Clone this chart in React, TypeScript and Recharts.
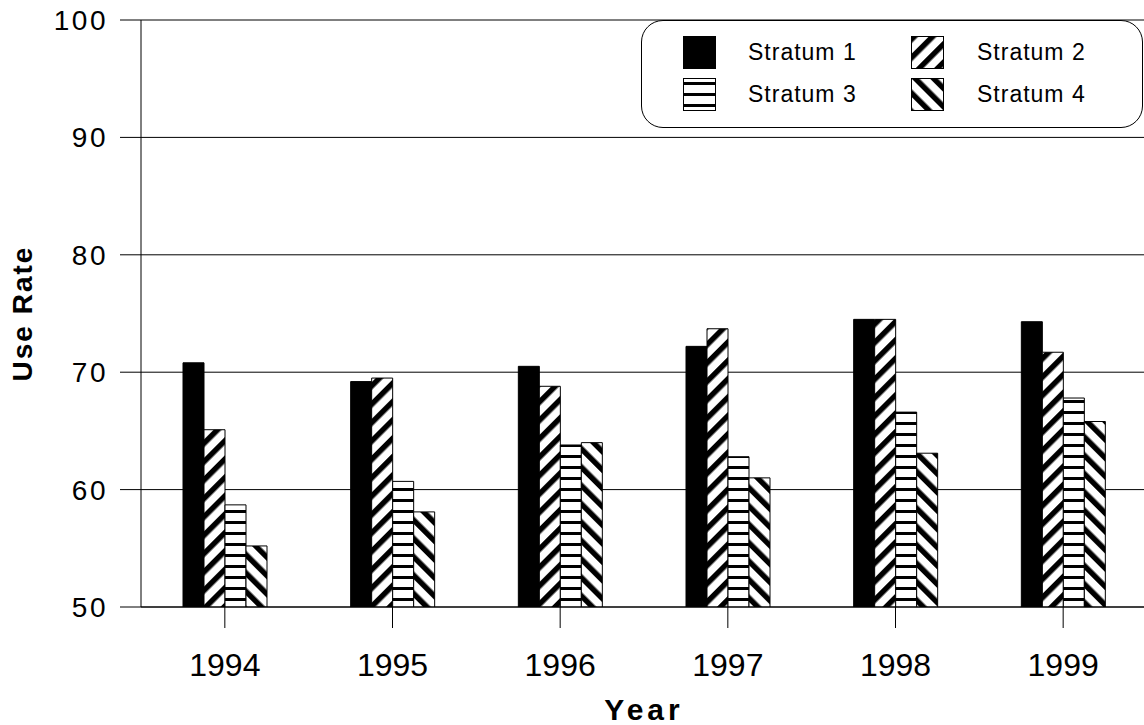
import React from 'react';
import { BarChart, Bar, XAxis, YAxis, CartesianGrid, Legend } from 'recharts';

const years = ['1994', '1995', '1996', '1997', '1998', '1999'];
const seriesNames = ['Stratum 1', 'Stratum 2', 'Stratum 3', 'Stratum 4'];
const stratum1 = [70.8, 69.2, 70.5, 72.2, 74.5, 74.3];
const stratum2 = [65.1, 69.5, 68.8, 73.7, 74.5, 71.7];
const stratum3 = [58.7, 60.7, 63.8, 62.8, 66.6, 67.8];
const stratum4 = [55.2, 58.1, 64.0, 61.0, 63.1, 65.8];
const yTicks = [50, 60, 70, 80, 90, 100];

const data = years.map((year, i) => ({
  year,
  s1: stratum1[i],
  s2: stratum2[i],
  s3: stratum3[i],
  s4: stratum4[i],
}));

const font = '"Liberation Sans", Arial, sans-serif';

// hatch patterns, prefix keeps ids unique between chart and legend swatches
function Patterns({ prefix }: { prefix: string }) {
  return (
    <defs>
      <pattern id={`${prefix}2`} patternUnits="userSpaceOnUse" width="13" height="13" patternTransform="rotate(45)">
        <rect width="13" height="13" fill="#fff" />
        <rect width="5.5" height="13" fill="#000" />
      </pattern>
      <pattern id={`${prefix}3`} patternUnits="userSpaceOnUse" width="10" height="11">
        <rect width="10" height="11" fill="#fff" />
        <rect y="4" width="10" height="3" fill="#000" />
      </pattern>
      <pattern id={`${prefix}4`} patternUnits="userSpaceOnUse" width="13" height="13" patternTransform="rotate(-45)">
        <rect width="13" height="13" fill="#fff" />
        <rect width="5.5" height="13" fill="#000" />
      </pattern>
    </defs>
  );
}

const fillFor = (prefix: string, i: number) => (i === 0 ? '#000' : `url(#${prefix}${i + 1})`);

function LegendBox() {
  return (
    <div
      style={{
        position: 'relative',
        width: 502,
        height: 108,
        border: '1px solid #000',
        borderRadius: 22,
        background: '#fff',
        boxSizing: 'border-box',
        fontFamily: font,
        fontSize: 23,
        letterSpacing: 1,
        color: '#000',
      }}
    >
      {seriesNames.map((name, i) => {
        const col = i % 2;
        const row = Math.floor(i / 2);
        const top = row === 0 ? 15 : 57;
        return (
          <React.Fragment key={name}>
            <svg
              width={33}
              height={33}
              style={{ position: 'absolute', left: col === 0 ? 41 : 269, top }}
            >
              <Patterns prefix={`lg${i}_`} />
              <rect x={0.5} y={0.5} width={32} height={32} fill={fillFor(`lg${i}_`, i)} stroke="#000" />
            </svg>
            <div
              style={{
                position: 'absolute',
                left: col === 0 ? 106 : 335,
                top,
                height: 33,
                lineHeight: '33px',
                whiteSpace: 'nowrap',
              }}
            >
              {name}
            </div>
          </React.Fragment>
        );
      })}
    </div>
  );
}

export default function App() {
  const keys = ['s1', 's2', 's3', 's4'];
  return (
    <div style={{ position: 'absolute', left: 0, top: 0, width: 1144, height: 725, overflow: 'hidden', background: '#fff' }}>
      <BarChart
        width={1160}
        height={725}
        data={data}
        margin={{ top: 20, right: 13, left: 0, bottom: 0 }}
        barGap={0}
        barSize={21}
      >
        <Patterns prefix="p" />
        <CartesianGrid vertical={false} stroke="#000" strokeOpacity={1} />
        <XAxis
          dataKey="year"
          height={118}
          stroke="#000"
          tickSize={21}
          tickMargin={25}
          tick={{ fill: '#000', fontSize: 32, fontFamily: font }}
          label={{
            value: 'Year',
            position: 'insideBottom',
            offset: 5,
            style: { fill: '#000', fontSize: 30, fontWeight: 'bold', fontFamily: font, letterSpacing: 4 },
          }}
        />
        <YAxis
          width={141}
          domain={[50, 100]}
          ticks={yTicks}
          allowDataOverflow
          stroke="#000"
          tickSize={21}
          tickMargin={12}
          tick={{ fill: '#000', fontSize: 28, fontFamily: font, letterSpacing: 2.5 }}
          label={{
            value: 'Use Rate',
            angle: -90,
            position: 'insideLeft',
            offset: 22,
            style: { fill: '#000', fontSize: 28, fontWeight: 'bold', fontFamily: font, letterSpacing: 2, textAnchor: 'middle' },
          }}
        />
        <Legend
          layout="vertical"
          align="center"
          verticalAlign="middle"
          content={() => <LegendBox />}
          wrapperStyle={{ position: 'absolute', left: 641, top: 20, width: 502, height: 108 }}
        />
        {keys.map((k, i) => (
          <Bar
            key={k}
            dataKey={k}
            name={seriesNames[i]}
            fill={fillFor('p', i)}
            stroke="#000"
            strokeWidth={1}
            isAnimationActive={false}
          />
        ))}
      </BarChart>
    </div>
  );
}
